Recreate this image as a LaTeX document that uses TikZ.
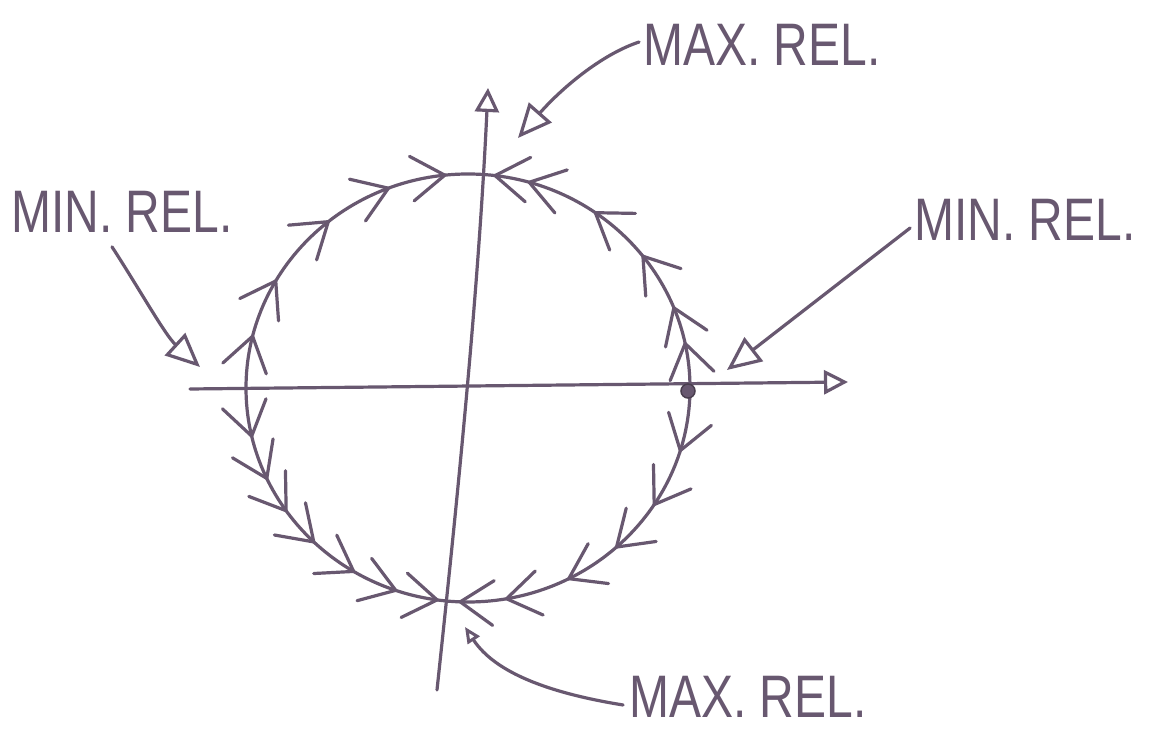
\documentclass[tikz,border=0pt]{standalone}
\usepackage{fontspec}
\setmainfont{Liberation Sans}
\usetikzlibrary{arrows.meta}
\definecolor{pen}{RGB}{104,88,112}
\begin{document}
\begin{tikzpicture}[x=1pt,y=1pt,
  pen/.style={draw=pen, line width=3.2pt, line cap=round, line join=round},
  lbl/.style={text=pen, font=\fontsize{60}{62}\selectfont, inner sep=0pt},
  bigtip/.style={-{Triangle[open,length=34pt,width=30pt,line width=3.2pt]}},
  axtip/.style={-{Triangle[open,length=24pt,width=24pt,line width=3.2pt]}},
  smalltip/.style={-{Triangle[open,length=16pt,width=14pt,line width=3pt]}}]
\path[use as bounding box, fill=white] (0,0) rectangle (1152,731);

% axes
\coordinate (hx0) at (190,342);
\coordinate (hx1) at (848,349);
\coordinate (vy0) at (437,41);
\coordinate (vy1) at (488,643);
\draw[pen, axtip] (hx0) -- (hx1);
\draw[pen, axtip] (vy0) .. controls (455,210) and (478,430) .. (vy1);

% circle
\coordinate (c) at (468,343);
\draw[pen] (c) ellipse [x radius=222, y radius=214];

% chevrons
\begin{scope}[shift={(468,343)}]
  % moving towards decreasing angle
  \foreach \t in {96,111,129,150,166,343,327,312,297,280,268}
    \draw[pen] (\t:222 and 214) ++(\t+124:40) -- (\t:222 and 214) -- ++(\t+56:40);
  % moving towards increasing angle
  \foreach \t in {83,74,55,38,22,12,193,205,215,226,239,251,262}
    \draw[pen] (\t:222 and 214) ++(\t-56:40) -- (\t:222 and 214) -- ++(\t-124:40);
\end{scope}

% equilibrium dot
\node[circle, fill=pen, draw=pen!70!black, line width=1.5pt, minimum size=14pt, inner sep=0pt] (eq) at (688,340) {};

% labels
\node[lbl] (maxtop) at (762,686) {\scalebox{0.8}[1]{MAX. REL.}};
\node[lbl] (minleft) at (122,519) {\scalebox{0.8}[1]{MIN. REL.}};
\node[lbl] (minright) at (1025,511) {\scalebox{0.8}[1]{MIN. REL.}};
\node[lbl] (maxbot) at (748,34) {\scalebox{0.8}[1]{MAX. REL.}};

\coordinate (ttop) at (518,593);
\coordinate (tleft) at (200,364);
\coordinate (tright) at (727,361);
\coordinate (tbot) at (465,104);

\draw[pen, bigtip] ([xshift=-4pt,yshift=3pt]maxtop.west) .. controls (600,676) and (560,641) .. (ttop);
\draw[pen, bigtip] ([xshift=-10pt,yshift=-14pt]minleft.south) .. controls (140,441) and (165,396) .. (tleft);
\draw[pen, bigtip] ([xshift=-4pt,yshift=-8pt]minright.west) -- (tright);
\draw[pen, smalltip] ([xshift=-6pt,yshift=-8pt]maxbot.west) .. controls (530,41) and (490,66) .. (tbot);
\end{tikzpicture}
\end{document}
